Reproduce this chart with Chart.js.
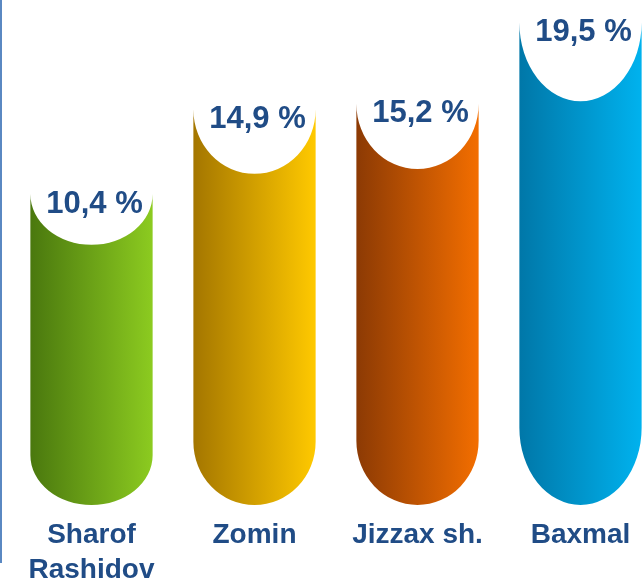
<!DOCTYPE html>
<html>
<head>
<meta charset="utf-8">
<script src="https://cdn.jsdelivr.net/npm/chart.js@4"></script>
<style>
  html, body { margin: 0; padding: 0; background: #ffffff; }
  #wrap { position: relative; width: 643px; height: 582px; overflow: hidden; background: #ffffff; }
  #frame { position: absolute; left: 0; top: 0; width: 2px; height: 563px; background: #5A88C2; }
  canvas { position: absolute; left: 0; top: 0; }
</style>
</head>
<body>
<div id="wrap">
  <canvas id="c" width="672" height="601"></canvas>
  <div id="frame"></div>
</div>
<script>
// ---- data ----
const categories = [['Sharof', 'Rashidov'], 'Zomin', 'Jizzax sh.', 'Baxmal'];
const shares = [10.4, 14.9, 15.2, 19.5];
const yMin = -6.1;
const yMax = 20.7;

// ---- styles ----
const gradDark  = ['#4A780E', '#A47600', '#8C3A04', '#0077A8'];
const gradLight = ['#8CCB20', '#FFC900', '#F36E00', '#00B2EE'];
const textColor = '#204C86';
const fontFamily = '"Liberation Sans", Arial, sans-serif';

const cylinderPlugin = {
  id: 'cylinders',
  afterDatasetsDraw(chart) {
    const ctx = chart.ctx;
    const meta = chart.getDatasetMeta(0);
    meta.data.forEach((bar, i) => {
      const p = bar.getProps(['x', 'y', 'base', 'width'], true);
      const h = p.base - p.y;
      const rx = p.width / 2;
      const left = p.x - rx, right = p.x + rx;
      const ryTop = 0.163 * h;
      const ryBot = 0.16 * h;
      ctx.save();
      const g = ctx.createLinearGradient(left, 0, right, 0);
      g.addColorStop(0, gradDark[i]);
      g.addColorStop(1, gradLight[i]);
      ctx.fillStyle = g;
      ctx.beginPath();
      ctx.moveTo(left, p.y);
      ctx.lineTo(left, p.base - ryBot);
      ctx.ellipse(p.x, p.base - ryBot, rx, ryBot, 0, Math.PI, 0, true);
      ctx.lineTo(right, p.y);
      ctx.ellipse(p.x, p.y, rx, ryTop, 0, 0, Math.PI, false);
      ctx.closePath();
      ctx.fill();
      // value label
      ctx.fillStyle = textColor;
      ctx.font = 'bold 31px ' + fontFamily;
      ctx.textAlign = 'center';
      ctx.textBaseline = 'middle';
      const txt = shares[i].toFixed(1).replace('.', ',') + ' %';
      ctx.fillText(txt, p.x + 3, p.y + 10);
      ctx.restore();
    });
  }
};

new Chart(document.getElementById('c'), {
  type: 'bar',
  data: {
    labels: categories,
    datasets: [{
      data: shares,
      base: yMin,
      backgroundColor: 'rgba(0,0,0,0)',
      borderWidth: 0,
      barPercentage: 0.75,
      categoryPercentage: 1.0
    }]
  },
  options: {
    responsive: false,
    devicePixelRatio: 1,
    animation: false,
    layout: { padding: { left: 10, right: 10, top: 0, bottom: 0 } },
    plugins: { legend: { display: false }, tooltip: { enabled: false } },
    scales: {
      y: { display: false, min: yMin, max: yMax },
      x: {
        grid: { display: false, drawTicks: false, drawOnChartArea: false },
        border: { display: false },
        ticks: {
          color: textColor,
          padding: 13,
          maxRotation: 0,
          autoSkip: false,
          font: { family: fontFamily, size: 28, weight: 'bold', lineHeight: 1.25 }
        }
      }
    }
  },
  plugins: [cylinderPlugin]
});
</script>
</body>
</html>
